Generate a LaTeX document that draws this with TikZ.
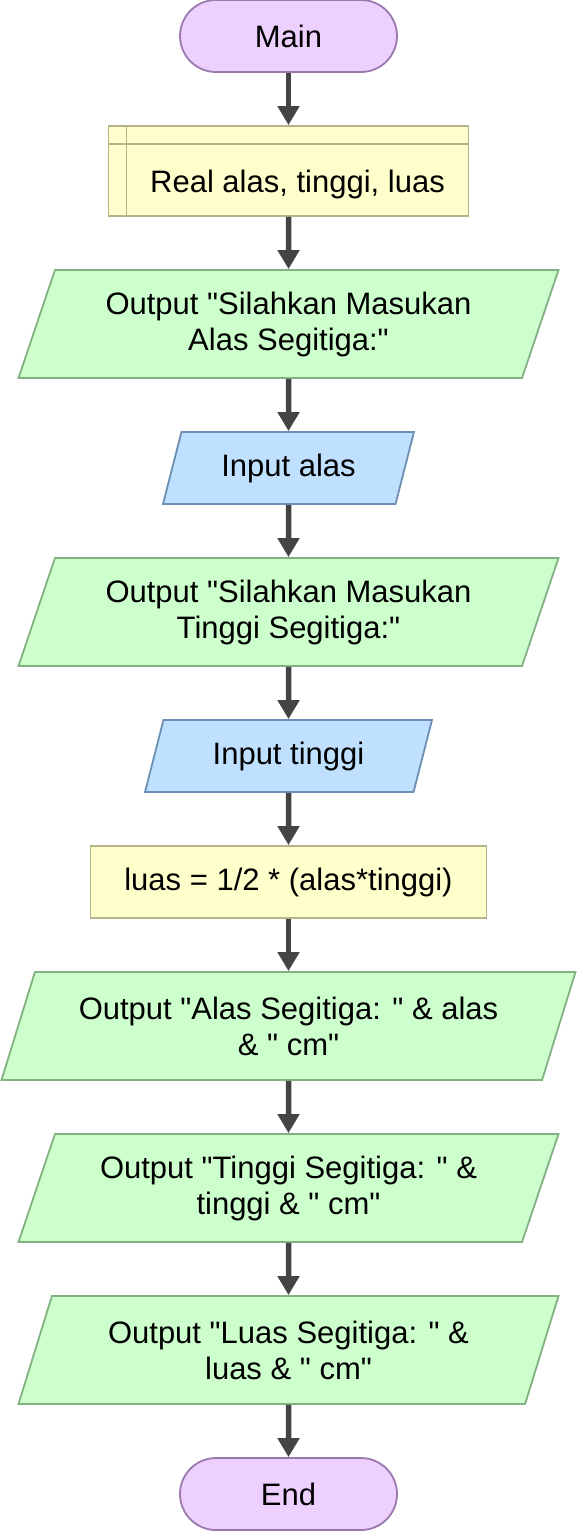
\documentclass[tikz,border=0pt]{standalone}
\usepackage{fontspec}
\setmainfont{Liberation Sans}[Ligatures=TeXOff]
\usetikzlibrary{shapes.geometric, arrows.meta}
\definecolor{termfill}{HTML}{EED0FF}
\definecolor{termline}{HTML}{9A7AAE}
\definecolor{procfill}{HTML}{FFFFCC}
\definecolor{procline}{HTML}{B4B48A}
\definecolor{outfill}{HTML}{CCFFCC}
\definecolor{outline}{HTML}{82B282}
\definecolor{infill}{HTML}{C0E0FF}
\definecolor{inline}{HTML}{6E8FB4}
\definecolor{arrowgray}{HTML}{444444}
\begin{document}
\begin{tikzpicture}[x=0.5pt, y=-0.5pt,
			every node/.style={font=\fontsize{15.5pt}{18pt}\selectfont, align=center, line width=0.9pt},
			terminal/.style={rectangle, rounded corners=18pt, draw=termline, fill=termfill,
				minimum width=108.5pt, minimum height=36pt},
			declare/.style={rectangle, draw=procline, fill=procfill, minimum width=180pt, minimum height=45pt,
				text height=21pt, text depth=0pt,
				path picture={
					\draw[procline, line width=0.9pt] ([xshift=9pt]path picture bounding box.north west) -- ([xshift=9pt]path picture bounding box.south west);
					\draw[procline, line width=0.9pt] ([yshift=-9pt]path picture bounding box.north west) -- ([yshift=-9pt]path picture bounding box.north east);}},
			process/.style={rectangle, draw=procline, fill=procfill, minimum height=36pt},
			output/.style={trapezium, trapezium left angle=63.43, trapezium right angle=116.57,
				trapezium stretches body, draw=outline, fill=outfill, minimum height=54pt, inner sep=2pt},
			input/.style={trapezium, trapezium left angle=63.43, trapezium right angle=116.57,
				trapezium stretches body, draw=inline, fill=infill, minimum height=36pt, inner sep=2pt},
			flow/.style={-{Triangle[length=9.5pt, width=10.5pt]}, line width=2.75pt, draw=arrowgray}]

		\useasboundingbox (0, 0) rectangle (577, 1531);

		\node[terminal] (main) at (288.5, 36) {Main};
		\node[declare] (decl) at (288.5, 171) {\hspace*{9pt}Real alas, tinggi, luas};
		\node[output, minimum width=270pt] (out1) at (288.5, 324) {Output "Silahkan Masukan\\Alas Segitiga:"};
		\node[input, minimum width=125.5pt] (in1) at (288.5, 468) {Input alas};
		\node[output, minimum width=270pt] (out2) at (288.5, 612) {Output "Silahkan Masukan\\Tinggi Segitiga:"};
		\node[input, minimum width=143.5pt] (in2) at (288.5, 756) {Input tinggi};
		\node[process, minimum width=198pt] (calc) at (288.5, 882) {luas = 1/2 * (alas*tinggi)};
		\node[output, minimum width=287pt] (out3) at (288.5, 1026) {Output "Alas Segitiga: " \& alas\\\& " cm"};
		\node[output, minimum width=270pt] (out4) at (288.5, 1188) {Output "Tinggi Segitiga: " \&\\tinggi \& " cm"};
		\node[output, minimum width=270pt] (out5) at (288.5, 1350) {Output "Luas Segitiga: " \&\\luas \& " cm"};
		\node[terminal] (end) at (288.5, 1494) {End};

		\draw[flow] (main) -- (decl);
		\draw[flow] (decl) -- (out1);
		\draw[flow] (out1) -- (in1);
		\draw[flow] (in1) -- (out2);
		\draw[flow] (out2) -- (in2);
		\draw[flow] (in2) -- (calc);
		\draw[flow] (calc) -- (out3);
		\draw[flow] (out3) -- (out4);
		\draw[flow] (out4) -- (out5);
		\draw[flow] (out5) -- (end);
	\end{tikzpicture}
\end{document}
